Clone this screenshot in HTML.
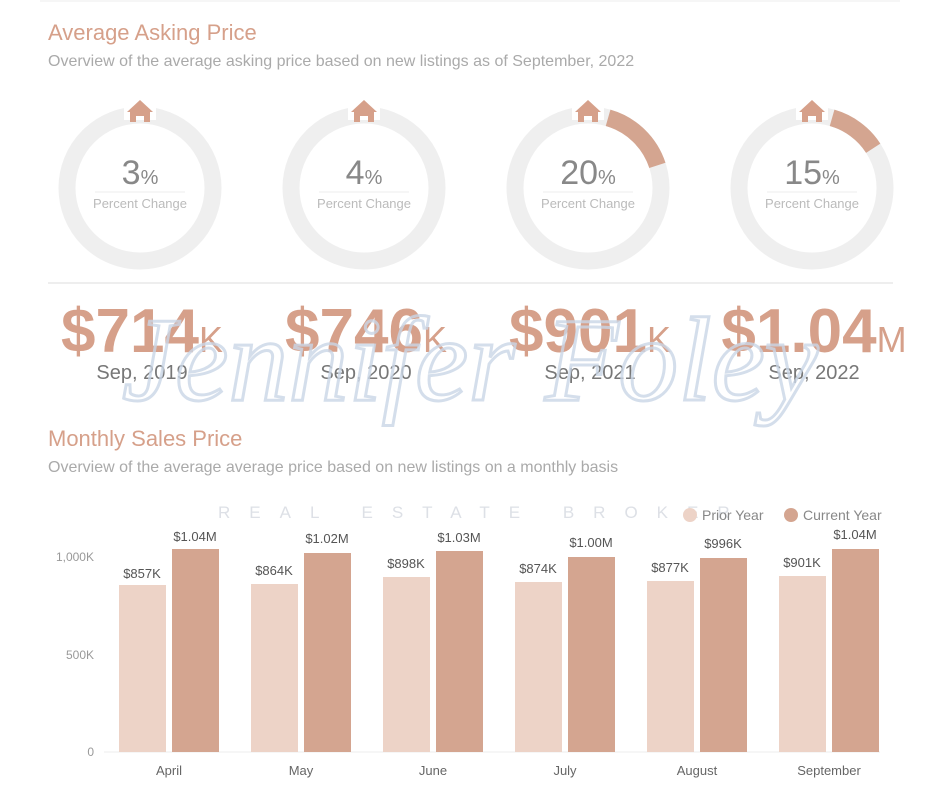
<!DOCTYPE html>
<html><head><meta charset="utf-8"><style>
html,body{margin:0;padding:0;background:#fff;}
svg{display:block;font-family:"Liberation Sans",sans-serif;}
</style></head><body>
<svg width="940" height="788" viewBox="0 0 940 788" xmlns="http://www.w3.org/2000/svg">
<line x1="40" y1="1" x2="900" y2="1" stroke="#eee"/>
<text x="48" y="40" font-size="22" fill="#d6a08a">Average Asking Price</text>
<text x="48" y="66" font-size="16" fill="#aaa">Overview of the average asking price based on new listings as of September, 2022</text>

<g id="donuts">
<g transform="translate(140,188)">
<circle r="73" fill="none" stroke="#efefef" stroke-width="17"/>
<rect x="-16" y="-92" width="32" height="24" fill="#fff"/>
<path d="M0,-88 L-13,-76 L-10,-76 L-10,-66 L-4,-66 L-4,-72 L4,-72 L4,-66 L10,-66 L10,-76 L13,-76 Z" fill="#d6a08a"/>
<text x="0" y="-4" font-size="34" fill="#888" text-anchor="middle">3<tspan font-size="20">%</tspan></text>
<line x1="-45" y1="4" x2="45" y2="4" stroke="#eee"/>
<text x="0" y="20" font-size="13" fill="#bbb" text-anchor="middle">Percent Change</text>
</g>
<g transform="translate(364,188)">
<circle r="73" fill="none" stroke="#efefef" stroke-width="17"/>
<rect x="-16" y="-92" width="32" height="24" fill="#fff"/>
<path d="M0,-88 L-13,-76 L-10,-76 L-10,-66 L-4,-66 L-4,-72 L4,-72 L4,-66 L10,-66 L10,-76 L13,-76 Z" fill="#d6a08a"/>
<text x="0" y="-4" font-size="34" fill="#888" text-anchor="middle">4<tspan font-size="20">%</tspan></text>
<line x1="-45" y1="4" x2="45" y2="4" stroke="#eee"/>
<text x="0" y="20" font-size="13" fill="#bbb" text-anchor="middle">Percent Change</text>
</g>
<g transform="translate(588,188)">
<circle r="73" fill="none" stroke="#efefef" stroke-width="17"/>
<rect x="-16" y="-92" width="32" height="24" fill="#fff"/>
<path d="M20.1,-70.2 A73,73 0 0 1 69.4,-22.6" fill="none" stroke="#d4a590" stroke-width="17"/>
<path d="M0,-88 L-13,-76 L-10,-76 L-10,-66 L-4,-66 L-4,-72 L4,-72 L4,-66 L10,-66 L10,-76 L13,-76 Z" fill="#d6a08a"/>
<text x="0" y="-4" font-size="34" fill="#888" text-anchor="middle">20<tspan font-size="20">%</tspan></text>
<line x1="-45" y1="4" x2="45" y2="4" stroke="#eee"/>
<text x="0" y="20" font-size="13" fill="#bbb" text-anchor="middle">Percent Change</text>
</g>
<g transform="translate(812,188)">
<circle r="73" fill="none" stroke="#efefef" stroke-width="17"/>
<rect x="-16" y="-92" width="32" height="24" fill="#fff"/>
<path d="M20.1,-70.2 A73,73 0 0 1 61.2,-39.8" fill="none" stroke="#d4a590" stroke-width="17"/>
<path d="M0,-88 L-13,-76 L-10,-76 L-10,-66 L-4,-66 L-4,-72 L4,-72 L4,-66 L10,-66 L10,-76 L13,-76 Z" fill="#d6a08a"/>
<text x="0" y="-4" font-size="34" fill="#888" text-anchor="middle">15<tspan font-size="20">%</tspan></text>
<line x1="-45" y1="4" x2="45" y2="4" stroke="#eee"/>
<text x="0" y="20" font-size="13" fill="#bbb" text-anchor="middle">Percent Change</text>
</g>
</g>

<line x1="48" y1="283" x2="893" y2="283" stroke="#eee" stroke-width="2"/>

<g font-weight="bold" fill="#d6a08a" font-size="62" text-anchor="middle">
<text x="142" y="352">$714<tspan font-size="36" font-weight="normal">K</tspan></text>
<text x="366" y="352">$746<tspan font-size="36" font-weight="normal">K</tspan></text>
<text x="590" y="352">$901<tspan font-size="36" font-weight="normal">K</tspan></text>
<text x="814" y="352">$1.04<tspan font-size="36" font-weight="normal">M</tspan></text>
</g>
<g font-size="20" fill="#777" text-anchor="middle">
<text x="142" y="379">Sep, 2019</text>
<text x="366" y="379">Sep, 2020</text>
<text x="590" y="379">Sep, 2021</text>
<text x="814" y="379">Sep, 2022</text>
</g>

<text x="470" y="400" font-family="Liberation Serif,serif" font-style="italic" font-size="120" fill="none" stroke="#c9d6e6" stroke-width="3" stroke-opacity="0.8" text-anchor="middle">Jennifer Foley</text>

<text x="48" y="446" font-size="22" fill="#d6a08a">Monthly Sales Price</text>
<text x="48" y="472" font-size="16" fill="#aaa">Overview of the average average price based on new listings on a monthly basis</text>
<text x="218" y="518" font-size="17" fill="#dde0e6" letter-spacing="19">REAL ESTATE BROKER</text>

<circle cx="690" cy="515" r="7" fill="#edd3c7"/>
<text x="702" y="520" font-size="14" fill="#888">Prior Year</text>
<circle cx="791" cy="515" r="7" fill="#d4a590"/>
<text x="803" y="520" font-size="14" fill="#888">Current Year</text>

<g font-size="12" fill="#999" text-anchor="end">
<text x="94" y="561">1,000K</text>
<text x="94" y="659">500K</text>
<text x="94" y="756">0</text>
</g>
<line x1="104" y1="752" x2="880" y2="752" stroke="#eee"/>

<g>
<rect x="119" y="585" width="47" height="167" fill="#edd3c7"/>
<rect x="172" y="549" width="47" height="203" fill="#d4a590"/>
<rect x="251" y="584" width="47" height="168" fill="#edd3c7"/>
<rect x="304" y="553" width="47" height="199" fill="#d4a590"/>
<rect x="383" y="577" width="47" height="175" fill="#edd3c7"/>
<rect x="436" y="551" width="47" height="201" fill="#d4a590"/>
<rect x="515" y="582" width="47" height="170" fill="#edd3c7"/>
<rect x="568" y="557" width="47" height="195" fill="#d4a590"/>
<rect x="647" y="581" width="47" height="171" fill="#edd3c7"/>
<rect x="700" y="558" width="47" height="194" fill="#d4a590"/>
<rect x="779" y="576" width="47" height="176" fill="#edd3c7"/>
<rect x="832" y="549" width="47" height="203" fill="#d4a590"/>
</g>
<g font-size="13" fill="#555" text-anchor="middle">
<text x="142" y="578">$857K</text><text x="195" y="541">$1.04M</text>
<text x="274" y="575">$864K</text><text x="327" y="543">$1.02M</text>
<text x="406" y="568">$898K</text><text x="459" y="542">$1.03M</text>
<text x="538" y="573">$874K</text><text x="591" y="547">$1.00M</text>
<text x="670" y="572">$877K</text><text x="723" y="548">$996K</text>
<text x="802" y="567">$901K</text><text x="855" y="539">$1.04M</text>
</g>
<g font-size="13" fill="#666" text-anchor="middle">
<text x="169" y="775">April</text>
<text x="301" y="775">May</text>
<text x="433" y="775">June</text>
<text x="565" y="775">July</text>
<text x="697" y="775">August</text>
<text x="829" y="775">September</text>
</g>
</svg>
</body></html>
